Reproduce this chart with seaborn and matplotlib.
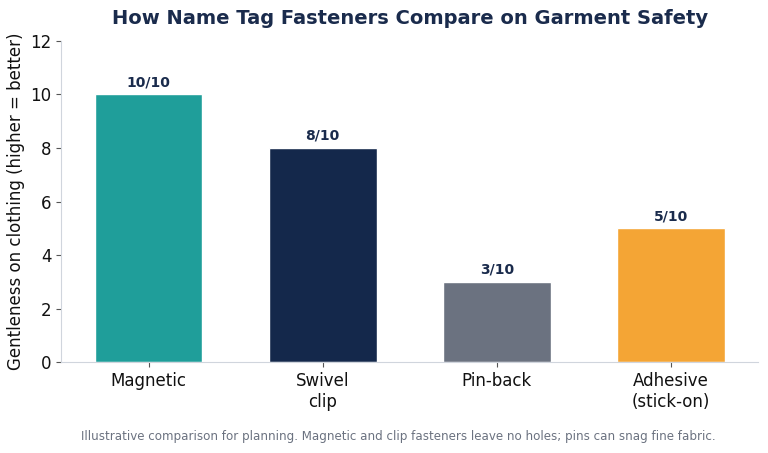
import matplotlib
matplotlib.use("Agg")
import matplotlib.pyplot as plt
import seaborn as sns
import pandas as pd

# data
fasteners = ["Magnetic", "Swivel\nclip", "Pin-back", "Adhesive\n(stick-on)"]
scores = [10, 8, 3, 5]
bar_colors = ["#1f9e9a", "#14284b", "#6b7280", "#f4a535"]

df = pd.DataFrame({"fastener": fasteners, "score": scores})

sns.set_style("ticks")
plt.rcParams["font.family"] = ["DejaVu Sans"]

fig, ax = plt.subplots(figsize=(7.68, 4.53), dpi=100)
sns.barplot(data=df, x="fastener", y="score", hue="fastener", palette=bar_colors,
            legend=False, width=0.62, saturation=1, ax=ax)

for i, v in enumerate(scores):
    ax.text(i, v + 0.2, f"{v}/10", ha="center", va="bottom", fontsize=10,
            fontweight="bold", color="#1a2b4c")

ax.set_ylim(0, 12)
ax.set_xlabel("")
ax.set_ylabel("Gentleness on clothing (higher = better)", fontsize=12, color="#111111")
ax.set_title("How Name Tag Fasteners Compare on Garment Safety", fontsize=14,
             fontweight="bold", color="#1a2b4c", pad=12)
ax.tick_params(axis="both", labelsize=12, labelcolor="#111111", color="#555555", length=3.5)
sns.despine(ax=ax)
for s in ["left", "bottom"]:
    ax.spines[s].set_color("#d0d5dd")

fig.text(0.518, 0.028, "Illustrative comparison for planning. Magnetic and clip fasteners leave no holes; pins can snag fine fabric.",
         ha="center", fontsize=8.6, color="#6b7280")

fig.subplots_adjust(left=0.08, right=0.987, top=0.91, bottom=0.2)
fig.savefig("out.png", dpi=100)
